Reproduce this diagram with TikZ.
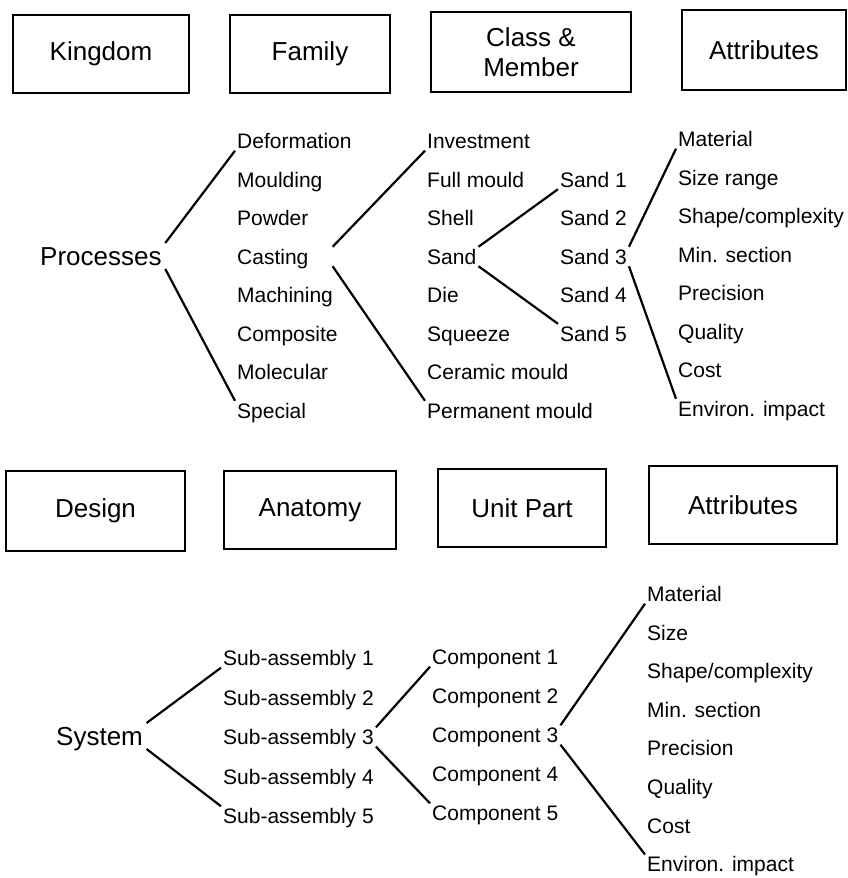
\documentclass[tikz,border=0pt]{standalone}
\usepackage{fontspec}
\setmainfont{Liberation Sans}
\usepackage{tikz}

\begin{document}
\begin{tikzpicture}[x=1pt,y=-1pt,
  box/.style={draw,line width=1.7pt,font=\fontsize{26}{30}\selectfont,align=center,inner sep=0pt},
  head/.style={anchor=west,font=\fontsize{26}{30}\selectfont,text height=18.6pt,text depth=0pt,inner sep=3.5pt},
  item/.style={anchor=west,font=\fontsize{21}{25}\selectfont,text height=15pt,text depth=0pt,inner sep=2pt},
  link/.style={line width=2.2pt}]
\useasboundingbox (0,0) rectangle (847,878);
% processes
\node[box,minimum width=176pt,minimum height=78pt] (kingdom) at (101,54) {Kingdom};
\node[box,minimum width=160pt,minimum height=78pt] (family) at (310,54) {Family};
\node[box,minimum width=200pt,minimum height=80pt] (class) at (531,52) {Class \&\\Member};
\node[box,minimum width=164pt,minimum height=80pt] (attrA) at (764,50) {Attributes};
\node[head] (proc) at (36.5,256) {Processes};
\foreach \t [count=\i] in {Deformation,Moulding,Powder,Casting,Machining,Composite,Molecular,Special}
  \node[item] (fam\i) at (235,{141+38.5*(\i-1)}) {\t};
\foreach \t [count=\i] in {Investment,Full mould,Shell,Sand,Die,Squeeze,Ceramic mould,Permanent mould}
  \node[item] (cls\i) at (425,{141+38.5*(\i-1)}) {\t};
\foreach \t [count=\i] in {Sand 1,Sand 2,Sand 3,Sand 4,Sand 5}
  \node[item] (snd\i) at (558,{179.5+38.5*(\i-1)}) {\t};
\foreach \t [count=\i] in {Material,Size range,Shape/complexity,Min. section,Precision,Quality,Cost,Environ. impact}
  \node[item] (atr\i) at (676,{139+38.5*(\i-1)}) {\t};
\draw[link] (proc.north east) -- (fam1.south west);
\draw[link] (proc.south east) -- (fam8.north west);
\draw[link] ([xshift=22pt]fam4.north east) -- (cls1.south west);
\draw[link] ([xshift=22pt]fam4.south east) -- (cls8.north west);
\draw[link] (cls4.north east) -- (snd1.south west);
\draw[link] (cls4.south east) -- (snd5.north west);
\draw[link] (snd3.north east) -- (atr1.south west);
\draw[link] (snd3.south east) -- (atr8.north west);
% design
\node[box,minimum width=179pt,minimum height=80pt] (design) at (95.5,511) {Design};
\node[box,minimum width=172pt,minimum height=78pt] (anatomy) at (310,510) {Anatomy};
\node[box,minimum width=168pt,minimum height=78pt] (unit) at (522,508) {Unit Part};
\node[box,minimum width=188pt,minimum height=78pt] (attrB) at (743,505) {Attributes};
\node[head] (sys) at (52.5,736) {System};
\foreach \i in {1,...,5}
  \node[item] (sub\i) at (221,{658+39.5*(\i-1)}) {Sub-assembly \i};
\foreach \i in {1,...,5}
  \node[item] (cmp\i) at (430,{657+39*(\i-1)}) {Component \i};
\foreach \t [count=\i] in {Material,Size,Shape/complexity,Min. section,Precision,Quality,Cost,Environ. impact}
  \node[item] (prt\i) at (645,{594+38.6*(\i-1)}) {\t};
\draw[link] (sys.north east) -- (sub1.south west);
\draw[link] (sys.south east) -- (sub5.north west);
\draw[link] (sub3.north east) -- (cmp1.south west);
\draw[link] (sub3.south east) -- (cmp5.north west);
\draw[link] (cmp3.north east) -- (prt1.south west);
\draw[link] (cmp3.south east) -- (prt8.north west);
\end{tikzpicture}
\end{document}
